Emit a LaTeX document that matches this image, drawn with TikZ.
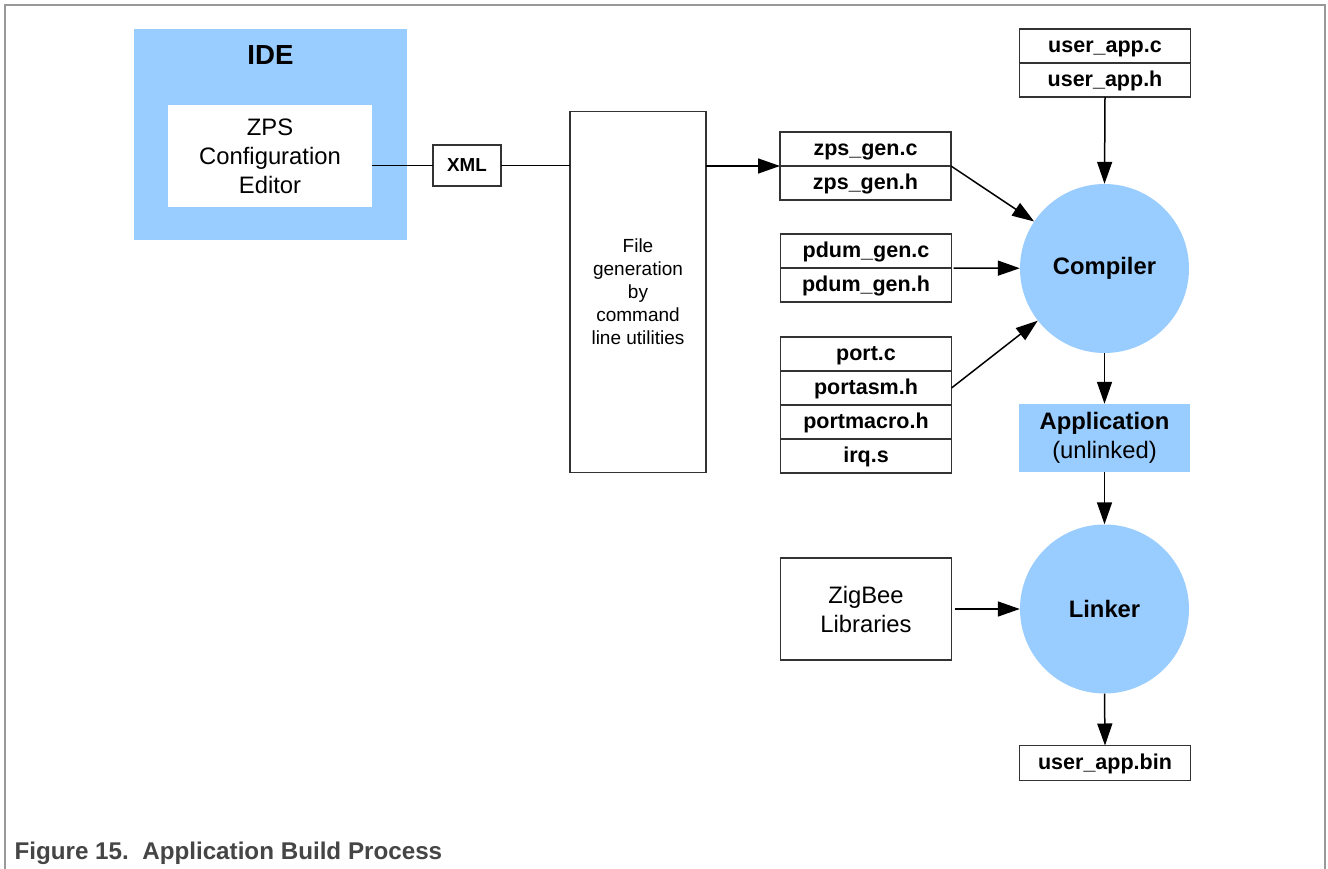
\documentclass[tikz,border=0pt]{standalone}
\usepackage{fontspec}
\setmainfont{Liberation Sans}
\usepackage{tikz}
\usetikzlibrary{arrows.meta,positioning,calc}
\newcommand\bigtxt{\fontsize{23.8}{29}\selectfont}
\newcommand\filetxt{\fontsize{21.5}{25}\selectfont\bfseries}
\newcommand\smalltxt{\fontsize{19}{23}\selectfont}

\begin{document}
\begin{tikzpicture}[x=1pt,y=-1pt,
    box/.style={draw=black!80,line width=1.2pt,fill=white,inner sep=0pt,outer sep=0pt,align=center},
    filebox/.style={box,minimum width=171pt,minimum height=34pt,text height=16pt,text depth=2.5pt,font=\filetxt},
    tool/.style={circle,fill=toolblue,inner sep=0pt,minimum size=169pt,font=\bigtxt\bfseries},
    flow/.style={line width=1.5pt,-{Triangle[length=22pt,width=15pt]}},
    link/.style={line width=1.5pt}]
    \definecolor{toolblue}{rgb}{0.6,0.8,1}
    \definecolor{framegray}{rgb}{0.6,0.6,0.6}
    \definecolor{capgray}{rgb}{0.27,0.27,0.27}
    \useasboundingbox (0,0) rectangle (1328,869);
    %frame
    \draw[framegray,line width=1.5pt] (5,869)--(5,5)--(1325,5)--(1325,869);
    %IDE
    \node[fill=toolblue,inner sep=0pt,minimum width=273pt,minimum height=211pt] (ide) at (270.5,134.5) {};
    \node[font=\fontsize{27.6}{30}\selectfont\bfseries] (idetitle) at (270.5,55) {IDE};
    \node[box,draw=none,minimum width=204pt,minimum height=102pt,font=\bigtxt] (zce) at (270,156) {ZPS\\Configuration\\Editor};
    \node[box,minimum width=68pt,minimum height=41pt,font=\fontsize{18.8}{22}\selectfont\bfseries] (xml) at (467,165.5) {XML};
    \node[box,minimum width=136pt,minimum height=361pt,font=\smalltxt] (gen) at (638,292) {File\\generation\\by\\command\\line utilities};
    %files
    \node[filebox] (zpsc) at (865.5,149) {zps\_gen.c};
    \node[filebox,below=0pt of zpsc] (zpsh) {zps\_gen.h};
    \node[filebox] (pdumc) at (866,251) {pdum\_gen.c};
    \node[filebox,below=0pt of pdumc] (pdumh) {pdum\_gen.h};
    \node[filebox] (portc) at (866,354) {port.c};
    \node[filebox,below=0pt of portc] (portasm) {portasm.h};
    \node[filebox,below=0pt of portasm] (portmac) {portmacro.h};
    \node[filebox,below=0pt of portmac] (irq) {irq.s};
    \node[filebox] (usrc) at (1105,46) {user\_app.c};
    \node[filebox,below=0pt of usrc] (usrh) {user\_app.h};
    \node[box,minimum width=171pt,minimum height=102pt,font=\bigtxt] (zig) at (866,609) {ZigBee\\Libraries};
    %tools
    \node[tool] (comp) at (1104.5,268.5) {Compiler};
    \node[fill=toolblue,inner sep=0pt,minimum width=171pt,minimum height=68pt,align=center,font=\bigtxt] (app) at (1104.5,438) {\textbf{Application}\\(unlinked)};
    \node[tool] (lnk) at (1104.5,609) {Linker};
    \node[filebox,minimum height=35pt] (bin) at (1105,763) {user\_app.bin};
    %lines
    \draw[link] (xml.west) -- (xml.west -| zce.east);
    \draw[link] (xml.east) -- (xml.east -| gen.west);
    \draw[flow] (gen.east |- zpsc.south west) -- (zpsc.south west);
    \draw[flow] (zpsc.south east) -- (comp);
    \draw[flow] ($(pdumc.south east)+(2,0)$) -- (comp);
    \draw[flow] (portasm.east) -- (comp);
    \draw[flow] (usrh.south) -- (comp.north);
    \draw[flow] (comp.south) -- (app.north);
    \draw[flow] (app.south) -- (lnk.north);
    \draw[flow] ($(zig.east)+(3,0)$) -- (lnk.west);
    \draw[flow] (lnk.south) -- (bin.north);
    %caption
    \node[anchor=west,text=capgray,font=\fontsize{24.2}{28}\selectfont\bfseries] (cap) at (11,853) {Figure 15.\ \ Application Build Process};
\end{tikzpicture}
\end{document}
